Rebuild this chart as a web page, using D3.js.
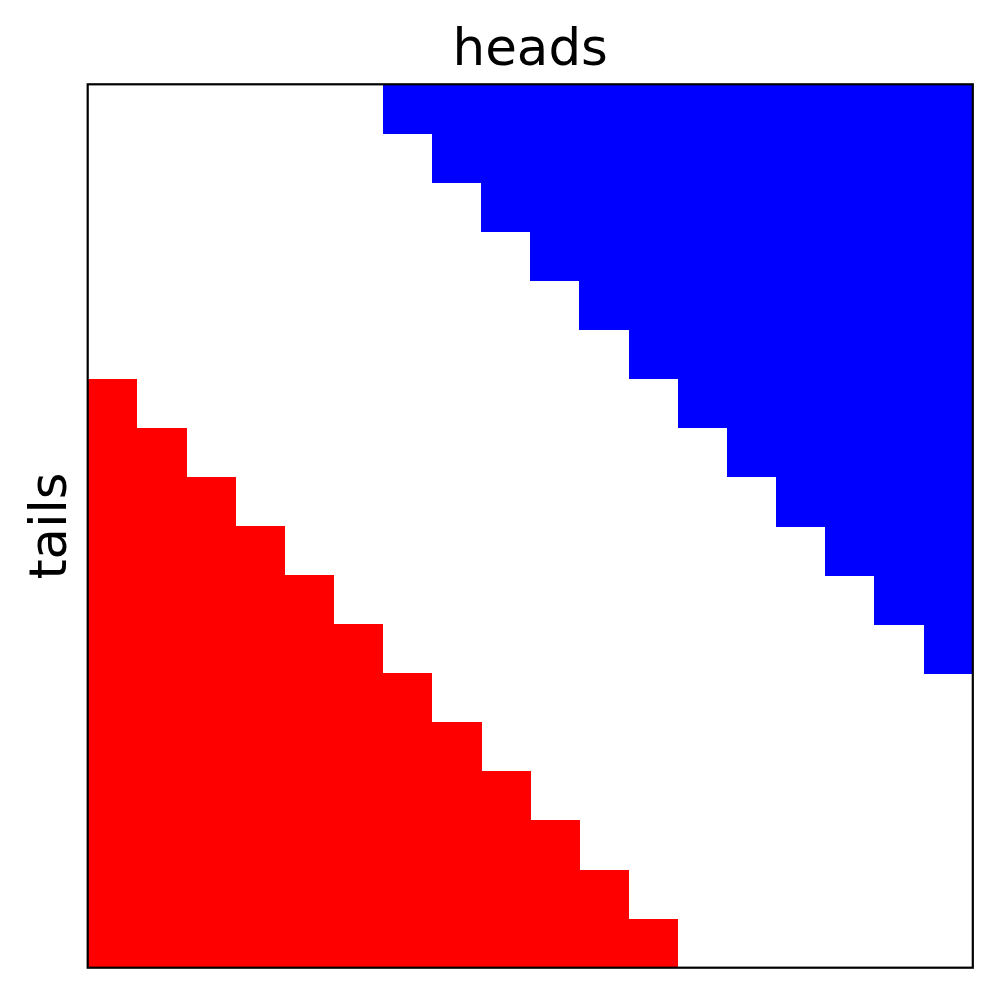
<!DOCTYPE html>
<html>
<head>
<meta charset="utf-8">
<script src="https://cdn.jsdelivr.net/npm/d3@7"></script>
<style>
  html, body { margin: 0; padding: 0; background: #fff; }
  svg { display: block; }
</style>
</head>
<body>
<svg id="chart" width="997" height="992"></svg>
<script>
// Grid values: 1 = heads (blue), -1 = tails (red), 0 = empty
const rowLabels = d3.range(18);
const colLabels = d3.range(18);
const gridRows = [
  [ 0, 0, 0, 0, 0, 0, 1, 1, 1, 1, 1, 1, 1, 1, 1, 1, 1, 1],
  [ 0, 0, 0, 0, 0, 0, 0, 1, 1, 1, 1, 1, 1, 1, 1, 1, 1, 1],
  [ 0, 0, 0, 0, 0, 0, 0, 0, 1, 1, 1, 1, 1, 1, 1, 1, 1, 1],
  [ 0, 0, 0, 0, 0, 0, 0, 0, 0, 1, 1, 1, 1, 1, 1, 1, 1, 1],
  [ 0, 0, 0, 0, 0, 0, 0, 0, 0, 0, 1, 1, 1, 1, 1, 1, 1, 1],
  [ 0, 0, 0, 0, 0, 0, 0, 0, 0, 0, 0, 1, 1, 1, 1, 1, 1, 1],
  [-1, 0, 0, 0, 0, 0, 0, 0, 0, 0, 0, 0, 1, 1, 1, 1, 1, 1],
  [-1,-1, 0, 0, 0, 0, 0, 0, 0, 0, 0, 0, 0, 1, 1, 1, 1, 1],
  [-1,-1,-1, 0, 0, 0, 0, 0, 0, 0, 0, 0, 0, 0, 1, 1, 1, 1],
  [-1,-1,-1,-1, 0, 0, 0, 0, 0, 0, 0, 0, 0, 0, 0, 1, 1, 1],
  [-1,-1,-1,-1,-1, 0, 0, 0, 0, 0, 0, 0, 0, 0, 0, 0, 1, 1],
  [-1,-1,-1,-1,-1,-1, 0, 0, 0, 0, 0, 0, 0, 0, 0, 0, 0, 1],
  [-1,-1,-1,-1,-1,-1,-1, 0, 0, 0, 0, 0, 0, 0, 0, 0, 0, 0],
  [-1,-1,-1,-1,-1,-1,-1,-1, 0, 0, 0, 0, 0, 0, 0, 0, 0, 0],
  [-1,-1,-1,-1,-1,-1,-1,-1,-1, 0, 0, 0, 0, 0, 0, 0, 0, 0],
  [-1,-1,-1,-1,-1,-1,-1,-1,-1,-1, 0, 0, 0, 0, 0, 0, 0, 0],
  [-1,-1,-1,-1,-1,-1,-1,-1,-1,-1,-1, 0, 0, 0, 0, 0, 0, 0],
  [-1,-1,-1,-1,-1,-1,-1,-1,-1,-1,-1,-1, 0, 0, 0, 0, 0, 0]
];
const titleText = "heads";
const yLabelText = "tails";

const svg = d3.select("#chart");
const pLeft = 87.7, pRight = 972.8, pTop = 84.3, pBottom = 967.7;

const x = d3.scaleBand().domain(colLabels).range([pLeft, pRight]).padding(0);
const y = d3.scaleBand().domain(rowLabels).range([pTop, pBottom]).padding(0);
const color = d3.scaleOrdinal().domain([-1, 0, 1]).range(["#ff0000", "#ffffff", "#0000ff"]);

const cells = [];
gridRows.forEach((row, i) => row.forEach((v, j) => cells.push({ i, j, v })));

svg.append("g")
  .attr("shape-rendering", "crispEdges")
  .selectAll("rect")
  .data(cells.filter(d => d.v !== 0))
  .join("rect")
  .attr("x", d => x(d.j))
  .attr("y", d => y(d.i))
  .attr("width", x.bandwidth() + 0.5)
  .attr("height", y.bandwidth() + 0.5)
  .attr("fill", d => color(d.v));

svg.append("rect")
  .attr("x", pLeft)
  .attr("y", pTop)
  .attr("width", pRight - pLeft)
  .attr("height", pBottom - pTop)
  .attr("fill", "none")
  .attr("stroke", "#000")
  .attr("stroke-width", 2.2);

svg.append("text")
  .attr("x", (pLeft + pRight) / 2)
  .attr("y", 65)
  .attr("text-anchor", "middle")
  .attr("font-family", "DejaVu Sans")
  .attr("font-size", 51.5)
  .attr("fill", "#000")
  .text(titleText);

svg.append("text")
  .attr("transform", `translate(65.5, ${(pTop + pBottom) / 2}) rotate(-90)`)
  .attr("text-anchor", "middle")
  .attr("font-family", "DejaVu Sans")
  .attr("font-size", 51.5)
  .attr("fill", "#000")
  .text(yLabelText);
</script>
</body>
</html>
